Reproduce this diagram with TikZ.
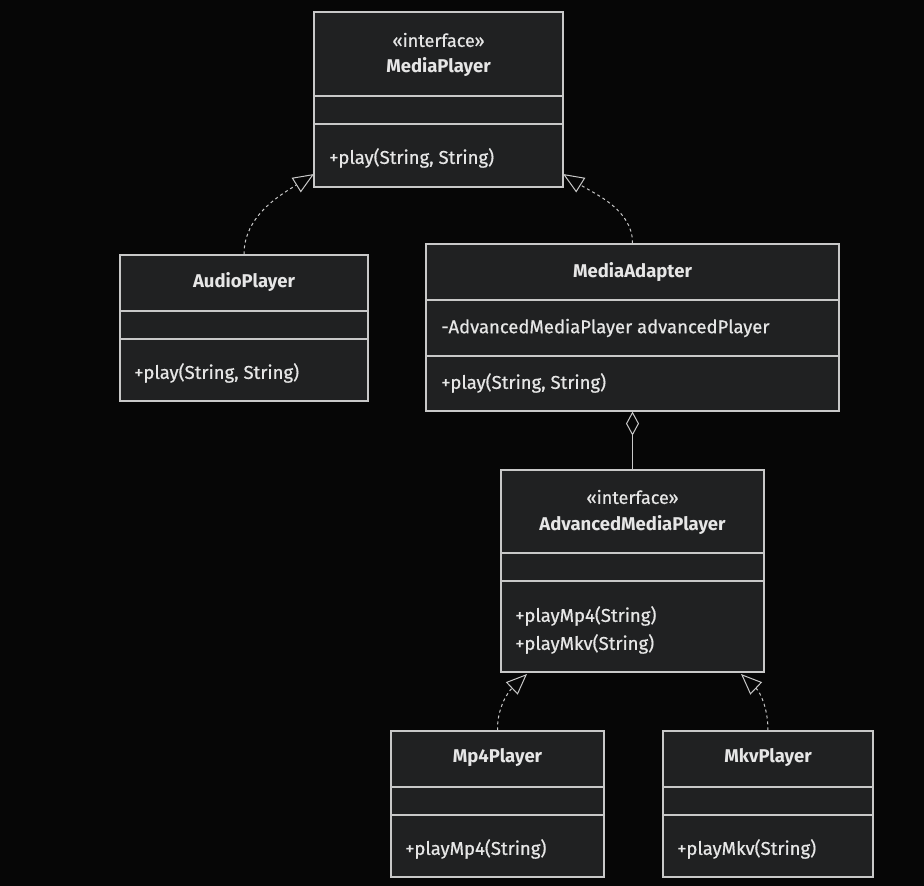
\documentclass[tikz,border=0pt]{standalone}
\usepackage{fontspec}
\setmainfont{Fira Sans}
\newfontfamily\memberfont{Fira Sans}[FakeBold=0.6]
\usetikzlibrary{arrows.meta}
\definecolor{bgcol}{HTML}{060606}
\definecolor{boxfill}{HTML}{202122}
\definecolor{boxline}{HTML}{C8C8C8}
\definecolor{textcol}{HTML}{E6E6E6}
\begin{document}
\begin{tikzpicture}[x=1pt,y=-1pt,
    classbox/.style={draw=boxline, fill=boxfill, line width=1.2pt, inner sep=0pt},
    divider/.style={draw=boxline, line width=1.2pt},
    title/.style={text=textcol, font=\fontsize{18.5}{21}\selectfont\bfseries, inner sep=0pt},
    stereo/.style={text=textcol, font=\fontsize{18}{21}\memberfont, inner sep=0pt},
    member/.style={text=textcol, font=\fontsize{18.5}{21}\memberfont, anchor=west, inner sep=0pt},
    realize/.style={draw=boxline, line width=1pt, dashed, dash pattern=on 3pt off 3pt,
        -{Triangle[open, fill=bgcol, length=21pt, width=17pt, line width=1pt]}},
    aggregate/.style={draw=boxline, line width=1.2pt,
        -{Diamond[open, fill=bgcol, length=24pt, width=13pt, line width=1pt]}}]
    \fill [bgcol] (0,0) rectangle (924,886);
    \useasboundingbox (0,0) rectangle (924,886);
    % MediaPlayer
    \node [classbox, minimum width=249pt, minimum height=175pt] (mediaplayer) at (438.5,99.5) {};
    \draw [divider] (mediaplayer.west |- 0,96) -- (mediaplayer.east |- 0,96);
    \draw [divider] (mediaplayer.west |- 0,124) -- (mediaplayer.east |- 0,124);
    \node [stereo] (mediaplayerstereo) at (438.5,40) {«interface»};
    \node [title] (mediaplayername) at (438.5,67) {MediaPlayer};
    \node [member] (mediaplayerplay) at (329,158) {+play(String, String)};
    % AudioPlayer
    \node [classbox, minimum width=248pt, minimum height=146pt] (audioplayer) at (244,328) {};
    \draw [divider] (audioplayer.west |- 0,311) -- (audioplayer.east |- 0,311);
    \draw [divider] (audioplayer.west |- 0,339) -- (audioplayer.east |- 0,339);
    \node [title] (audioplayername) at (244,282) {AudioPlayer};
    \node [member] (audioplayerplay) at (134,373) {+play(String, String)};
    % MediaAdapter
    \node [classbox, minimum width=413pt, minimum height=167pt] (mediaadapter) at (632.5,327.5) {};
    \draw [divider] (mediaadapter.west |- 0,300) -- (mediaadapter.east |- 0,300);
    \draw [divider] (mediaadapter.west |- 0,356) -- (mediaadapter.east |- 0,356);
    \node [title] (mediaadaptername) at (632.5,272) {MediaAdapter};
    \node [member] (mediaadapterfield) at (441,328) {-AdvancedMediaPlayer advancedPlayer};
    \node [member] (mediaadapterplay) at (441,383) {+play(String, String)};
    % AdvancedMediaPlayer
    \node [classbox, minimum width=263pt, minimum height=202pt] (advplayer) at (632.5,571) {};
    \draw [divider] (advplayer.west |- 0,553) -- (advplayer.east |- 0,553);
    \draw [divider] (advplayer.west |- 0,581) -- (advplayer.east |- 0,581);
    \node [stereo] (advplayerstereo) at (632.5,497) {«interface»};
    \node [title] (advplayername) at (632.5,525) {AdvancedMediaPlayer};
    \node [member] (advplayermp4) at (515,616) {+playMp4(String)};
    \node [member] (advplayermkv) at (515,644) {+playMkv(String)};
    % Mp4Player
    \node [classbox, minimum width=213pt, minimum height=146pt] (mpfourplayer) at (497.5,804) {};
    \draw [divider] (mpfourplayer.west |- 0,787) -- (mpfourplayer.east |- 0,787);
    \draw [divider] (mpfourplayer.west |- 0,815) -- (mpfourplayer.east |- 0,815);
    \node [title] (mpfourplayername) at (497.5,758) {Mp4Player};
    \node [member] (mpfourplayerplay) at (405,849) {+playMp4(String)};
    % MkvPlayer
    \node [classbox, minimum width=210pt, minimum height=146pt] (mkvplayer) at (768,804) {};
    \draw [divider] (mkvplayer.west |- 0,787) -- (mkvplayer.east |- 0,787);
    \draw [divider] (mkvplayer.west |- 0,815) -- (mkvplayer.east |- 0,815);
    \node [title] (mkvplayername) at (768,758) {MkvPlayer};
    \node [member] (mkvplayerplay) at (677,849) {+playMkv(String)};
    % relations
    \coordinate (mediaplayerleft) at (314,174);
    \coordinate (mediaplayerright) at (563,174);
    \coordinate (advplayerleft) at (527,674);
    \coordinate (advplayerright) at (741,674);
    \draw [realize] (audioplayer.north) .. controls (244,215) and (282,194) .. (mediaplayerleft);
    \draw [realize] (mediaadapter.north) .. controls (633,210) and (595,194) .. (mediaplayerright);
    \draw [realize] (mpfourplayer.north) .. controls (497,708) and (508,692) .. (advplayerleft);
    \draw [realize] (mkvplayer.north) .. controls (768,708) and (760,692) .. (advplayerright);
    \draw [aggregate] (advplayer.north) -- (mediaadapter.south);
\end{tikzpicture}
\end{document}
